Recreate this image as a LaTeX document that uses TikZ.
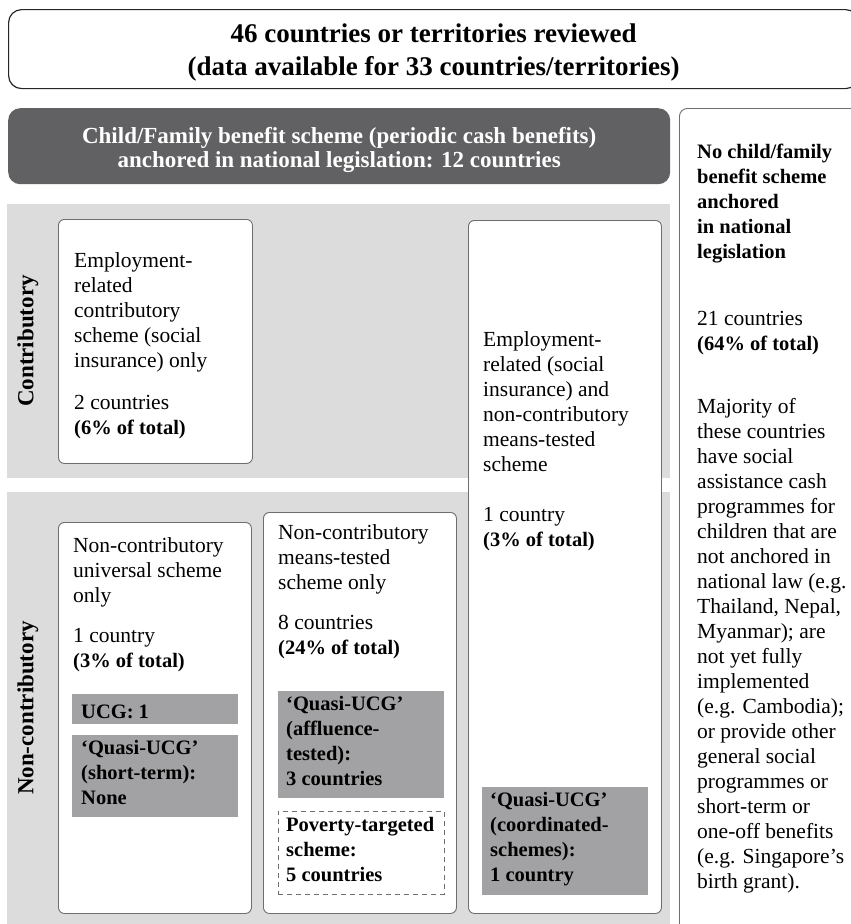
\documentclass[tikz,border=0pt]{standalone}
\usepackage{fontspec}
\setmainfont{Liberation Serif}
\usetikzlibrary{positioning}

\definecolor{darkbox}{HTML}{616163}
\definecolor{band}{HTML}{DCDCDD}
\definecolor{midgrey}{HTML}{A2A2A4}
\definecolor{edge}{HTML}{6E6E6E}

\newcommand\bodyfont{\fontsize{21.5}{25}\selectfont}
\newcommand\hl[1]{{\fontsize{20.5}{25}\selectfont\bfseries #1}}

\begin{document}
\begin{tikzpicture}[x=1pt,y=-1pt,
  cell/.style={draw=edge,line width=0.9pt,fill=white,rounded corners=6pt,anchor=north west,inner sep=0pt},
  tag/.style={fill=midgrey,anchor=north west,inner sep=0pt},
  strip/.style={fill=band,anchor=north west,inner sep=0pt},
  txt/.style={anchor=north west,inner sep=0pt,align=left,font=\bodyfont,execute at begin node=\rule{0pt}{17pt}},
  btxt/.style={txt,font=\fontsize{20.5}{25}\selectfont\bfseries},
  side/.style={font=\fontsize{23}{25}\selectfont\bfseries,rotate=90,inner sep=0pt}]
  \useasboundingbox (0,0) rectangle (851,924);
  \clip (0,0) rectangle (851,924);

  \node[draw=black!85,line width=1.2pt,rounded corners=13pt,anchor=north west,inner sep=0pt,
        minimum width=850pt,minimum height=79pt] (title) at (8,9) {};
  \node[font=\fontsize{27}{33}\selectfont\bfseries,align=center,inner sep=0pt] (titletxt)
        at ([yshift=-3.5pt]title.center) {46 countries or territories reviewed\\(data available for 33 countries/territories)};

  \node[fill=darkbox,rounded corners=12pt,anchor=north west,inner sep=0pt,
        minimum width=662pt,minimum height=76pt] (legal) at (8,108) {};
  \node[font=\fontsize{23}{24}\selectfont\bfseries,text=white,align=center,inner sep=0pt] (legaltxt)
        at ([yshift=-3.6pt]legal.center) {Child/Family benefit scheme (periodic cash benefits)\\anchored in national legislation: 12 countries};

  \node[cell,rounded corners=8pt,minimum width=180pt,minimum height=830pt] (nolaw) at (679,108) {};
  \node[txt,below right=36pt and 18pt of nolaw.north west] (nolawtxt)
        {\hl{No child/family}\\\hl{benefit scheme}\\\hl{anchored}\\\hl{in national}\\\hl{legislation}\\[42pt]
         21 countries\\\hl{(64\% of total)}\\[38pt]
         Majority of\\these countries\\have social\\assistance cash\\programmes for\\children that are\\
         not anchored in\\national law (e.g.\\Thailand, Nepal,\\Myanmar); are\\not yet fully\\implemented\\
         (e.g. Cambodia);\\or provide other\\general social\\programmes or\\short-term or\\one-off benefits\\
         (e.g. Singapore’s\\birth grant).};

  \node[strip,minimum width=663pt,minimum height=274pt] (contribband) at (7,204) {};
  \node[strip,minimum width=663pt,minimum height=440pt] (noncontribband) at (7,492) {};
  \node[side] (contriblbl) at (28,341) {Contributory};
  \node[side] (noncontriblbl) at (28,708) {Non-contributory};

  \node[cell,minimum width=194pt,minimum height=244pt] (insonly) at (58,219) {};
  \node[txt,below right=33pt and 16pt of insonly.north west] (insonlytxt)
        {Employment-\\related\\contributory\\scheme (social\\insurance) only\\[17pt]2 countries\\\hl{(6\% of total)}};

  \node[cell,minimum width=193pt,minimum height=693pt] (mixed) at (468,220) {};
  \node[txt,below right=111pt and 15pt of mixed.north west] (mixedtxt)
        {Employment-\\related (social\\insurance) and\\non-contributory\\means-tested\\scheme\\[25pt]1 country\\\hl{(3\% of total)}};
  \node[tag,minimum width=166pt,minimum height=108pt] (coord) at (482,787) {};
  \node[btxt,below right=5pt and 8pt of coord.north west] (coordtxt)
        {‘Quasi-UCG’\\(coordinated-\\schemes):\\1 country};

  \node[cell,minimum width=193pt,minimum height=391pt] (univ) at (58,522) {};
  \node[txt,below right=15pt and 15pt of univ.north west] (univtxt)
        {Non-contributory\\universal scheme\\only\\[15pt]1 country\\\hl{(3\% of total)}};
  \node[tag,minimum width=166pt,minimum height=30pt] (ucg) at (72,694) {};
  \node[btxt,below right=7pt and 9pt of ucg.north west] (ucgtxt) {UCG: 1};
  \node[tag,minimum width=166pt,minimum height=82pt] (short) at (72,735) {};
  \node[btxt,below right=5pt and 9pt of short.north west] (shorttxt)
        {‘Quasi-UCG’\\(short-term):\\None};

  \node[cell,minimum width=193pt,minimum height=401pt] (means) at (263,512) {};
  \node[txt,below right=12pt and 15pt of means.north west] (meanstxt)
        {Non-contributory\\means-tested\\scheme only\\[15pt]8 countries\\\hl{(24\% of total)}};
  \node[tag,minimum width=166pt,minimum height=107pt] (affl) at (278,691) {};
  \node[btxt,below right=5pt and 8pt of affl.north west] (affltxt)
        {‘Quasi-UCG’\\(affluence-\\tested):\\3 countries};
  \node[draw=edge,line width=0.9pt,dash pattern=on 5pt off 4pt,fill=white,anchor=north west,inner sep=0pt,
        minimum width=166pt,minimum height=83pt] (poverty) at (278,811) {};
  \node[btxt,below right=6pt and 8pt of poverty.north west] (povertytxt)
        {Poverty-targeted\\scheme:\\5 countries};
\end{tikzpicture}
\end{document}
